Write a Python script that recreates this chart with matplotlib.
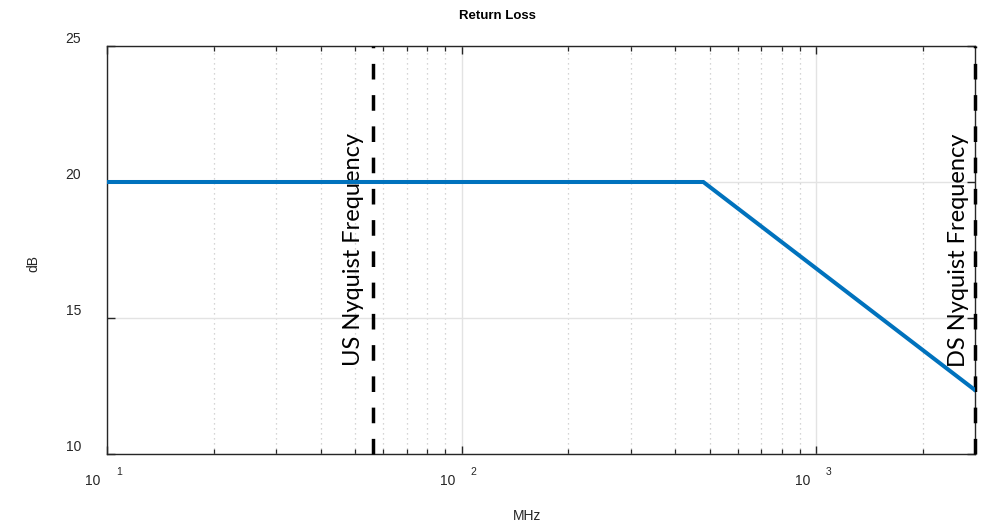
import matplotlib
matplotlib.use("Agg")
import matplotlib.pyplot as plt
from matplotlib.ticker import NullFormatter, FixedLocator

# ---- data ----
freq_mhz = [10, 480, 2800]
return_loss_db = [20.0, 20.0, 12.35]
us_nyquist = 56.3
ds_nyquist = 2800
x_major = [10, 100, 1000]
x_exp_labels = ["1", "2", "3"]
y_major = [10, 15, 20, 25]
y_labels = ["10", "15", "20", "25"]
x_minor = [20, 30, 40, 50, 60, 70, 80, 90, 200, 300, 400, 500, 600, 700, 800, 900, 2000]

W, H = 985, 526
fig = plt.figure(figsize=(W / 100, H / 100), dpi=100)
L, R, T, B = 107, 975, 46, 454
ax = fig.add_axes([L / W, 1 - B / H, (R - L) / W, (B - T) / H])

ax.set_xscale("log")
ax.set_xlim(10, 2800)
ax.set_ylim(10, 25)

# grids
ax.xaxis.set_major_locator(FixedLocator(x_major))
ax.xaxis.set_minor_locator(FixedLocator(x_minor))
ax.yaxis.set_major_locator(FixedLocator(y_major))
ax.xaxis.set_major_formatter(NullFormatter())
ax.xaxis.set_minor_formatter(NullFormatter())
ax.yaxis.set_major_formatter(NullFormatter())
ax.grid(True, which="major", color="#e3e3e3", linewidth=1.0, linestyle="-")
ax.grid(True, which="minor", axis="x", color="#c8c8c8", linewidth=0.9, linestyle=(0, (1, 3)))
ax.set_axisbelow(True)

ax.tick_params(which="major", direction="in", length=5.8, width=1.0, color="#262626",
               top=True, right=True)
ax.tick_params(which="minor", direction="in", length=3.6, width=0.9, color="#262626",
               top=True, right=True)
for s in ax.spines.values():
    s.set_color("#262626")
    s.set_linewidth(1.0)

# vertical Nyquist lines (drawn from bottom to top)
for xv in (us_nyquist, ds_nyquist):
    ax.plot([xv, xv], [10, 25], color="black", linewidth=2.5,
            linestyle=(0, (4.5, 4.5)), clip_on=False, zorder=3)

# return loss curve
ax.plot(freq_mhz, return_loss_db, color="#0072BD", linewidth=2.9, zorder=4,
        solid_joinstyle="miter")

# rotated labels
txt_font = "Lato"
ax.annotate("US Nyquist Frequency", xy=(us_nyquist, 17.5), xytext=(-19.5, 0),
            textcoords="offset pixels", rotation=90, ha="center", va="center",
            fontsize=17, family=[txt_font, "DejaVu Sans"], color="black", zorder=2)
ax.annotate("DS Nyquist Frequency", xy=(ds_nyquist, 17.5), xytext=(-16.5, 0),
            textcoords="offset pixels", rotation=90, ha="center", va="center",
            fontsize=17, family=[txt_font, "DejaVu Sans"], color="black", zorder=2)

tick_font = ["Liberation Sans", "DejaVu Sans"]
tc = "#262626"
# x tick labels in MATLAB "10^n" style
for xv, e in zip(x_major, x_exp_labels):
    ax.annotate("10", xy=(xv, 10), xytext=(-14, -27), textcoords="offset pixels",
                ha="center", va="center", fontsize=10, family=tick_font, color=tc,
                annotation_clip=False)
    ax.annotate(e, xy=(xv, 10), xytext=(12, -18), textcoords="offset pixels",
                ha="center", va="center", fontsize=7.5, family=tick_font, color=tc,
                annotation_clip=False)
# y tick labels
for yv, lab in zip(y_major, y_labels):
    ax.annotate(lab, xy=(10, yv), xytext=(-26, 7), textcoords="offset pixels",
                ha="right", va="center", fontsize=10, family=tick_font, color=tc,
                annotation_clip=False)

fig.text(497 / W, 1 - 16 / H, "Return Loss", ha="center", va="center",
         fontsize=9.5, fontweight="bold", family=tick_font, color="black")
fig.text(527 / W, 1 - 516 / H, "MHz", ha="center", va="center",
         fontsize=10, family=tick_font, color=tc)
fig.text(33 / W, 1 - 263 / H, "dB", ha="center", va="center", rotation=90,
         fontsize=10, family=tick_font, color=tc)

fig.savefig("out.png", dpi=100)
